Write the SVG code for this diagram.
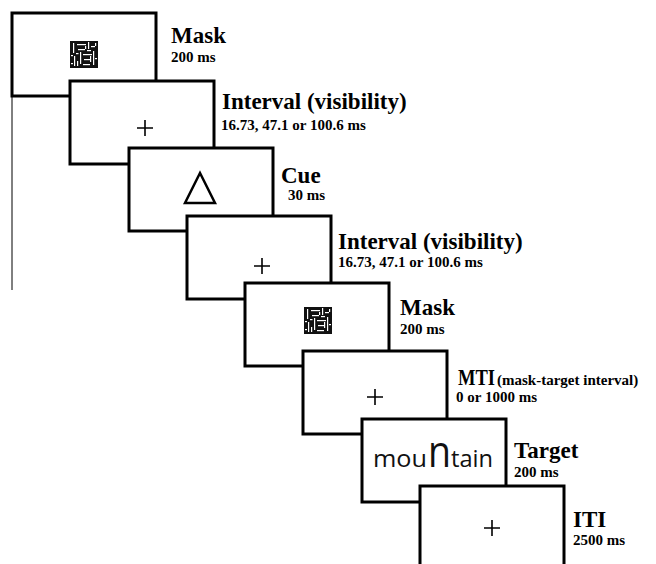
<svg xmlns="http://www.w3.org/2000/svg" width="656" height="564" viewBox="0 0 656 564">
<style>
.frame{fill:#fff;stroke:#000;stroke-width:3}
.title{font-family:"Liberation Serif","Times New Roman",serif;font-weight:bold;font-size:23px;fill:#000}
.sub{font-family:"Liberation Serif","Times New Roman",serif;font-weight:bold;font-size:15px;fill:#000}
.paren{font-family:"Liberation Serif","Times New Roman",serif;font-weight:bold;font-size:15px;fill:#000}
.fix{stroke:#000;stroke-width:1.6;fill:none}
.word{font-family:"Open Sans","Noto Sans",sans-serif;font-size:24px;fill:#111}
.big{font-size:44px}
</style>
<defs>
<g id="maskpat">
<rect x="0" y="0" width="28" height="27" fill="#111"/>
<g fill="#fff">
<rect x="3" y="2" width="1.2" height="10"/>
<rect x="7" y="3" width="9" height="1.2"/>
<rect x="18" y="1" width="1.2" height="7"/>
<rect x="8" y="8" width="7" height="1.2"/>
<rect x="21" y="5" width="4" height="1.2"/>
<rect x="10" y="11" width="1.2" height="12"/>
<rect x="13" y="13" width="9" height="1.2"/>
<rect x="4" y="15" width="1.2" height="10"/>
<rect x="14" y="18" width="6" height="1.2"/>
<rect x="23" y="10" width="1.2" height="14"/>
<rect x="13" y="23" width="7" height="1.2"/>
<rect x="1" y="14" width="2" height="1.2"/>
<rect x="7" y="20" width="1.2" height="5"/>
<rect x="17" y="9" width="4" height="1.2"/>
<rect x="25" y="2" width="1.2" height="3"/>
<rect x="20" y="15" width="1.2" height="6"/>
<rect x="6" y="12" width="2.5" height="1.2"/>
<rect x="15" y="5" width="1.2" height="3"/>
<rect x="1" y="22" width="2" height="1.2"/>
<rect x="25" y="17" width="2" height="1.2"/>
</g>
</g>
</defs>
<line id="time-line" x1="12" y1="96" x2="12" y2="290" stroke="#000" stroke-width="1"/>
<g id="frame1-mask">
<rect class="frame" x="12" y="13" width="144" height="83"/>
<use href="#maskpat" x="70" y="41"/>
<text class="title" x="171" y="43">Mask</text>
<text class="sub" x="171" y="62">200 ms</text>
</g>
<g id="frame2-interval">
<rect class="frame" x="70" y="81" width="144" height="83"/>
<path class="fix" d="M137 128H153M145 120V136"/>
<text class="title" x="222" y="109">Interval (visibility)</text>
<text class="sub" x="221" y="130">16.73, 47.1 or 100.6 ms</text>
</g>
<g id="frame3-cue">
<rect class="frame" x="129" y="148" width="144" height="83"/>
<polygon points="200,173 185,203 215,203" fill="none" stroke="#000" stroke-width="2.5"/>
<text class="title" x="281" y="183">Cue</text>
<text class="sub" x="288" y="200">30 ms</text>
</g>
<g id="frame4-interval">
<rect class="frame" x="187" y="216" width="144" height="83"/>
<path class="fix" d="M254 266H270M262 258V274"/>
<text class="title" x="338" y="249">Interval (visibility)</text>
<text class="sub" x="338" y="267">16.73, 47.1 or 100.6 ms</text>
</g>
<g id="frame5-mask">
<rect class="frame" x="245" y="283" width="144" height="83"/>
<use href="#maskpat" x="304" y="307"/>
<text class="title" x="400" y="315">Mask</text>
<text class="sub" x="400" y="334">200 ms</text>
</g>
<g id="frame6-mti">
<rect class="frame" x="303" y="351" width="144" height="83"/>
<path class="fix" d="M367 397H383M375 389V405"/>
<text class="title" x="458" y="385" textLength="37" lengthAdjust="spacingAndGlyphs">MTI</text>
<text class="paren" x="497" y="385">(mask-target interval)</text>
<text class="sub" x="456" y="402">0 or 1000 ms</text>
</g>
<g id="frame7-target">
<rect class="frame" x="362" y="419" width="144" height="83"/>
<text class="word" x="373" y="467" textLength="54" lengthAdjust="spacingAndGlyphs">mou</text>
<text class="word big" x="428" y="467" textLength="23" lengthAdjust="spacingAndGlyphs">n</text>
<text class="word" x="451" y="467" textLength="42" lengthAdjust="spacingAndGlyphs">tain</text>
<text class="title" x="514" y="458">Target</text>
<text class="sub" x="514" y="477">200 ms</text>
</g>
<g id="frame8-iti">
<rect class="frame" x="420" y="486" width="144" height="83"/>
<path class="fix" d="M484 528H500M492 520V536"/>
<text class="title" x="573" y="527">ITI</text>
<text class="sub" x="573" y="545">2500 ms</text>
</g>
</svg>
